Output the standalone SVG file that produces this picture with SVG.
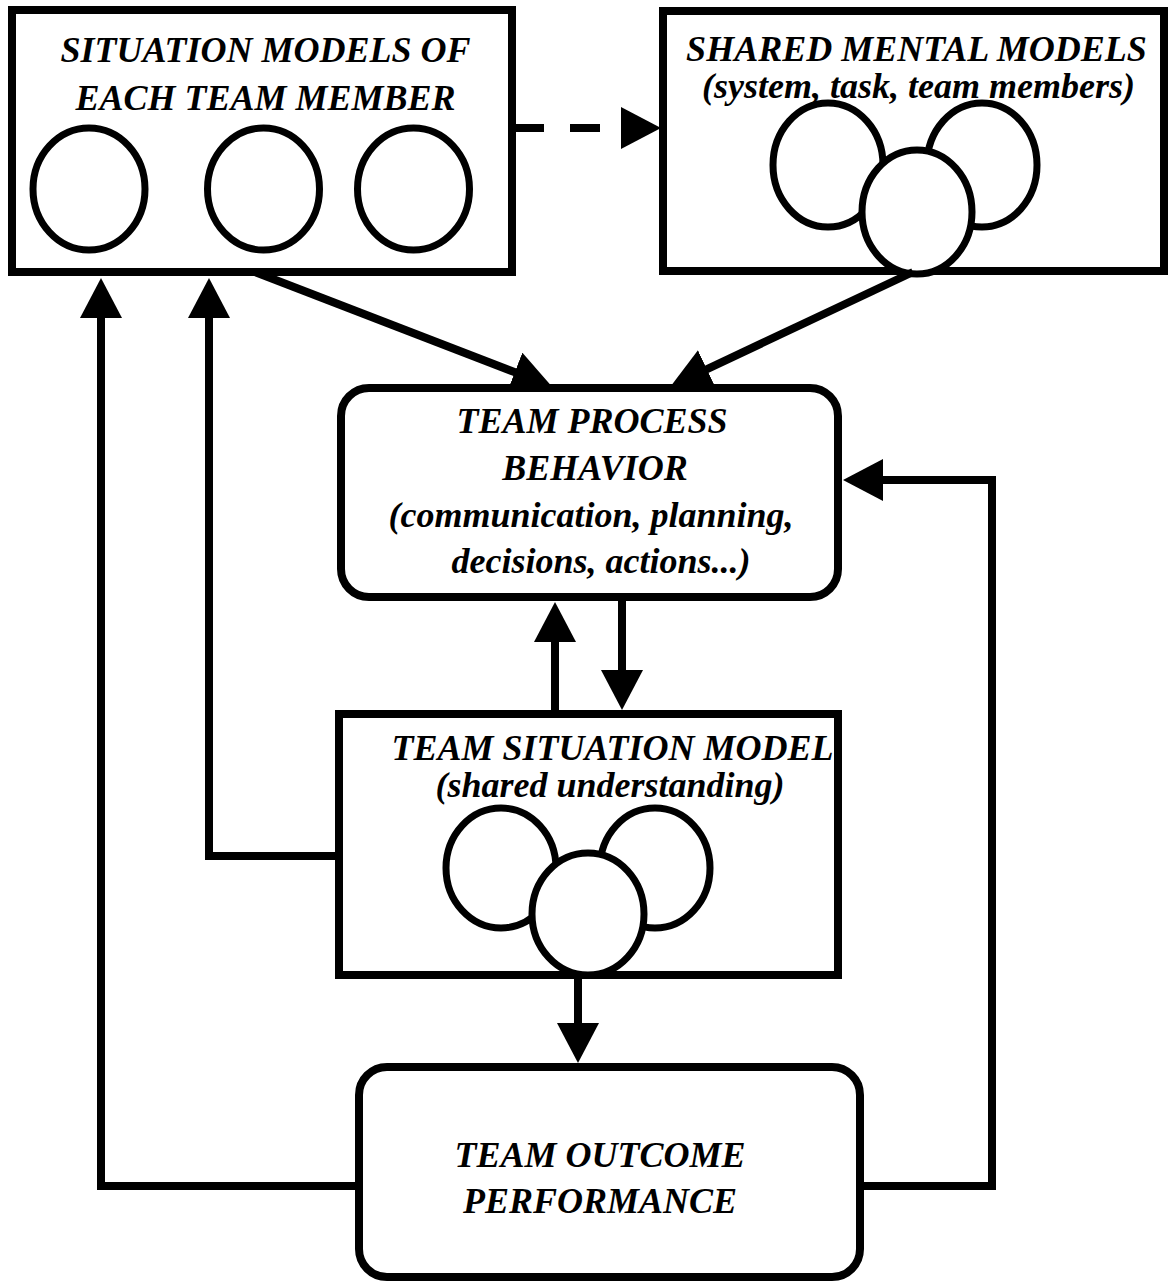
<svg xmlns="http://www.w3.org/2000/svg" width="1172" height="1283" viewBox="0 0 1172 1283">
<style>
.box{fill:#fff;stroke:#000;stroke-width:8}
.c{fill:#fff;stroke:#000;stroke-width:7}
.t{font-family:"Liberation Serif","Times New Roman",serif;font-weight:bold;font-style:italic;font-size:36px;fill:#000;text-anchor:middle}
.ln{fill:none;stroke:#000;stroke-width:8;stroke-linejoin:miter;stroke-linecap:butt}
</style>
<defs>
<marker id="arr" viewBox="0 -21 40 42" refX="1" refY="0" markerWidth="40" markerHeight="42" markerUnits="userSpaceOnUse" orient="auto">
<path d="M0,-21 L40,0 L0,21 Z" fill="#000"/>
</marker>
</defs>
<rect width="1172" height="1283" fill="#fff"/>
<g id="situation-models">
<rect class="box" x="12" y="10" width="500" height="262"/>
<text class="t" x="265.5" y="62">SITUATION MODELS OF</text>
<text class="t" x="265.5" y="110">EACH TEAM MEMBER</text>
<ellipse class="c" cx="89" cy="189" rx="56" ry="61"/>
<ellipse class="c" cx="263.5" cy="189" rx="56" ry="61"/>
<ellipse class="c" cx="413.5" cy="189" rx="56" ry="61"/>
</g>
<g id="shared-mental-models">
<rect class="box" x="663" y="11" width="501" height="260"/>
<text class="t" x="916.5" y="61">SHARED MENTAL MODELS</text>
<text class="t" x="918.5" y="98">(system, task, team members)</text>
<ellipse class="c" cx="828" cy="165" rx="55" ry="62"/>
<ellipse class="c" cx="982" cy="165" rx="55" ry="62"/>
<ellipse class="c" cx="917" cy="212" rx="55" ry="62"/>
</g>
<g id="team-process-behavior">
<rect class="box" x="341" y="388" width="497" height="209" rx="28" ry="28"/>
<text class="t" x="592" y="433">TEAM PROCESS</text>
<text class="t" x="595" y="480">BEHAVIOR</text>
<text class="t" x="591" y="527">(communication, planning,</text>
<text class="t" x="601" y="573">decisions, actions...)</text>
</g>
<g id="team-situation-model">
<rect class="box" x="339" y="714" width="499" height="261"/>
<text class="t" x="612.5" y="760">TEAM SITUATION MODEL</text>
<text class="t" x="610" y="797">(shared understanding)</text>
<ellipse class="c" cx="501" cy="868" rx="55" ry="60"/>
<ellipse class="c" cx="655" cy="868" rx="55" ry="60"/>
<ellipse class="c" cx="588" cy="914" rx="56" ry="61"/>
</g>
<g id="team-outcome-performance">
<rect class="box" x="359" y="1067" width="501" height="210" rx="28" ry="28"/>
<text class="t" x="600" y="1167">TEAM OUTCOME</text>
<text class="t" x="600" y="1213">PERFORMANCE</text>
</g>
<g id="connectors">
<path class="ln" d="M514,128 L622,128" stroke-dasharray="30 26" stroke-width="9" marker-end="url(#arr)"/>
<path class="ln" d="M255,272 L515.7,372.6" marker-end="url(#arr)"/>
<path class="ln" d="M913,272 L706,369.6" marker-end="url(#arr)"/>
<path class="ln" d="M555,714 L555,641" marker-end="url(#arr)"/>
<path class="ln" d="M622,597 L622,671" marker-end="url(#arr)"/>
<path class="ln" d="M578,975 L578,1024" marker-end="url(#arr)"/>
<path class="ln" d="M359,1186 L101,1186 L101,317" marker-end="url(#arr)"/>
<path class="ln" d="M339,856 L209,856 L209,317" marker-end="url(#arr)"/>
<path class="ln" d="M860,1186 L992,1186 L992,480 L882,480" marker-end="url(#arr)"/>
</g>
</svg>
